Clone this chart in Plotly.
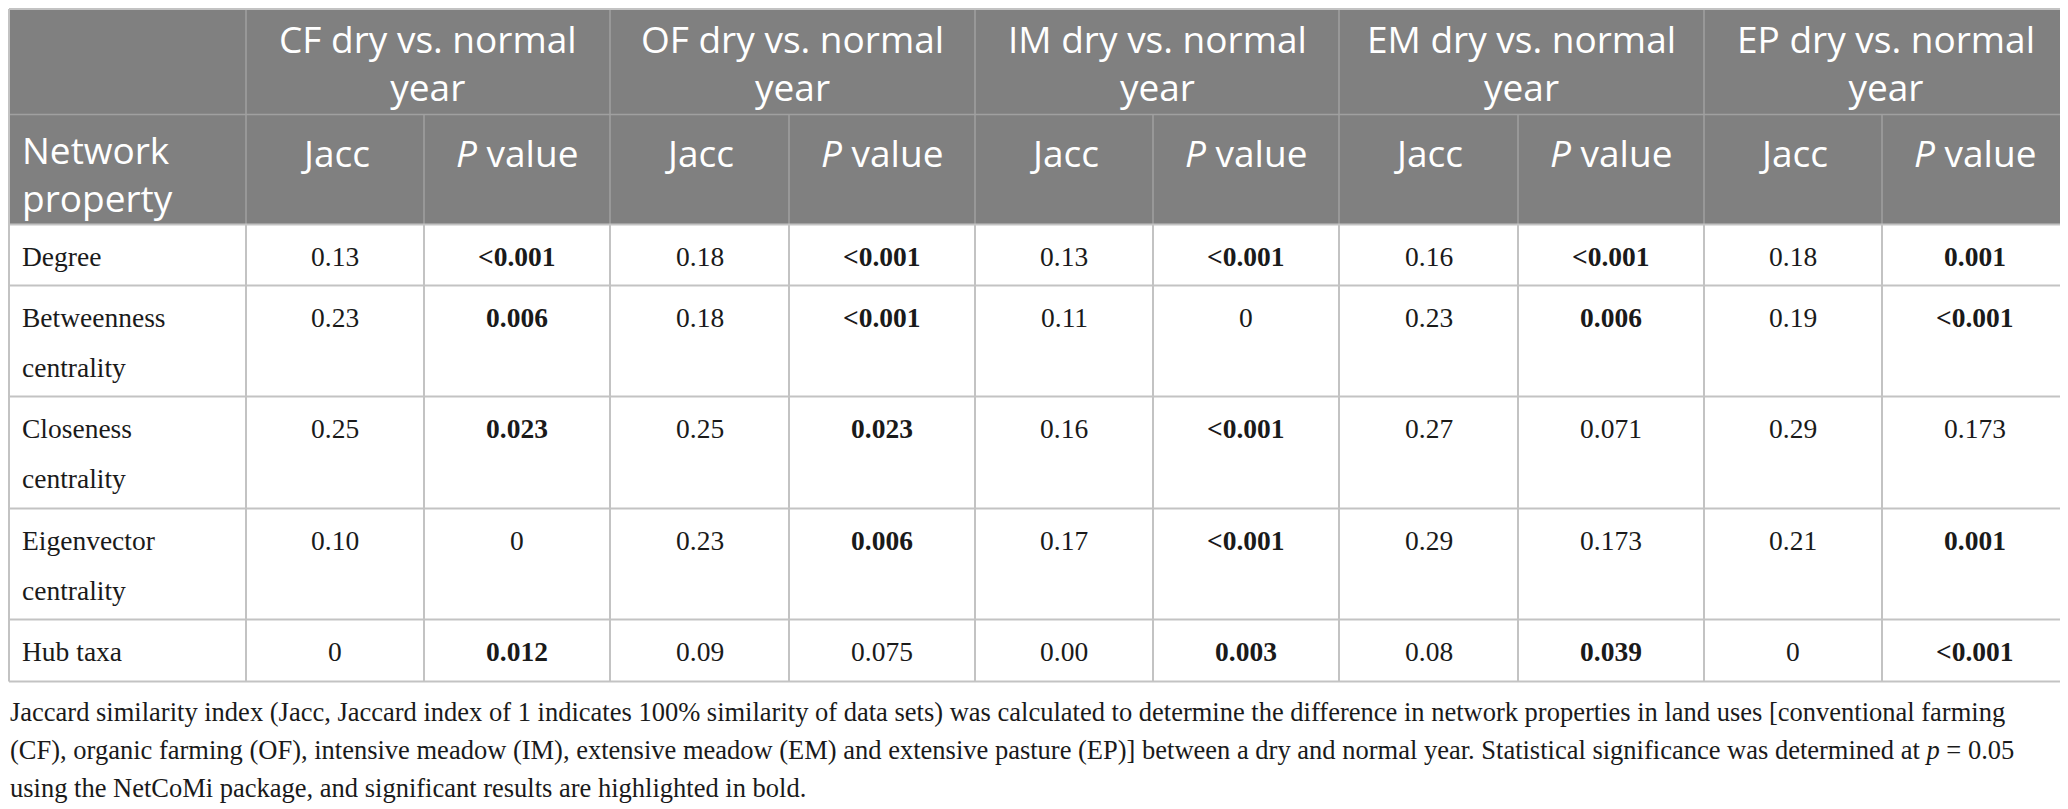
#!/usr/bin/env python3
"""
Jaccard 相似度表格（干旱年 vs 正常年）
使用 plotly 的 shapes + annotations 在坐标轴上绘制表格
"""

import plotly.graph_objects as go

# 数据
groups = ["CF", "OF", "IM", "EM", "EP"]
group_title = "{} dry vs. normal\nyear"
sub_headers = ["Jacc", "<i>P</i> value"]
first_header = "Network\nproperty"

properties = [
    "Degree",
    "Betweenness\ncentrality",
    "Closeness\ncentrality",
    "Eigenvector\ncentrality",
    "Hub taxa",
]

cf_jacc = ["0.13", "0.23", "0.25", "0.10", "0"]
cf_p = ["<0.001", "0.006", "0.023", "0", "0.012"]
cf_bold = [1, 1, 1, 0, 1]

of_jacc = ["0.18", "0.18", "0.25", "0.23", "0.09"]
of_p = ["<0.001", "<0.001", "0.023", "0.006", "0.075"]
of_bold = [1, 1, 1, 1, 0]

im_jacc = ["0.13", "0.11", "0.16", "0.17", "0.00"]
im_p = ["<0.001", "0", "<0.001", "<0.001", "0.003"]
im_bold = [1, 0, 1, 1, 1]

em_jacc = ["0.16", "0.23", "0.27", "0.29", "0.08"]
em_p = ["<0.001", "0.006", "0.071", "0.173", "0.039"]
em_bold = [1, 1, 0, 0, 1]

ep_jacc = ["0.18", "0.19", "0.29", "0.21", "0"]
ep_p = ["0.001", "<0.001", "0.173", "0.001", "<0.001"]
ep_bold = [1, 1, 0, 1, 1]

caption_lines = [
    "Jaccard similarity index (Jacc, Jaccard index of 1 indicates 100% similarity of data sets) was calculated to determine the difference in network properties in land uses [conventional farming",
    "(CF), organic farming (OF), intensive meadow (IM), extensive meadow (EM) and extensive pasture (EP)] between a dry and normal year. Statistical significance was determined at <i>p</i> = 0.05",
    "using the NetCoMi package, and significant results are highlighted in bold.",
]

# 版式（页面像素坐标；浏览器 body 默认有 8px 外边距）
W, H = 2068, 809
PAD = 8
COL_W = [245, 178, 186, 179, 186, 178, 186, 179, 186, 178, 185]
X0 = 1
TOP = 4.5
HEAD_H = [110, 110]
ROW_H = [61, 111, 112, 111, 62]

HEAD_FILL = "#808080"
HEAD_LINE = "#a0a0a0"
BODY_LINE = "#c3c3c3"
SANS = "Open Sans"
SERIF = "Liberation Serif"


def cumsum(start, sizes):
    out = [start]
    for s in sizes:
        out.append(out[-1] + s)
    return out


def esc(s):
    return s.replace("<", "&lt;") if not s.startswith("<i>") else s


def main():
    xe = cumsum(X0, COL_W)
    ye = cumsum(TOP, HEAD_H + ROW_H)
    head_bottom = ye[2]
    bottom = ye[-1]
    left = max(xe[0], PAD + 1)
    top_line = max(TOP, PAD + 1)

    shapes = []
    annotations = []

    def line(x0, y0, x1, y1, color, width):
        shapes.append(dict(type="line", xref="x", yref="y", x0=x0, y0=y0, x1=x1, y1=y1,
                           line=dict(color=color, width=width), layer="above"))

    def text(x, y_top, s, offset, spacing, font, anchor="center"):
        # 表体：逐行放置，行距自定
        for i, ln in enumerate(s.split("\n")):
            annotations.append(dict(x=x, y=y_top + offset + i * spacing, xref="x", yref="y",
                                    text=ln, showarrow=False, xanchor=anchor, yanchor="middle",
                                    font=font))

    def head_text(x, y_top, s, offset, spacing, font, anchor="center"):
        # 表头：多行合成一个文本块，避免文本框重叠
        lines = s.split("\n")
        yc = y_top + offset + (len(lines) - 1) * spacing / 2
        annotations.append(dict(x=x, y=yc, xref="x", yref="y", text="<br>".join(lines),
                                showarrow=False, xanchor=anchor, yanchor="middle",
                                align=anchor if anchor != "center" else "center", font=font))

    # 表头底色
    shapes.append(dict(type="rect", xref="x", yref="y", x0=left, x1=xe[-1], y0=top_line, y1=head_bottom,
                       fillcolor=HEAD_FILL, line=dict(width=0), layer="below"))

    # 表头线
    line(left, ye[1], xe[-1], ye[1], HEAD_LINE, 1.5)
    for k in range(1, len(xe) - 1):
        y_start = top_line if k % 2 == 1 else ye[1]
        line(xe[k], y_start, xe[k], head_bottom, HEAD_LINE, 1.5)

    # 表体线
    for r in range(2, len(ye)):
        line(left, ye[r], xe[-1], ye[r], BODY_LINE, 2)
    for k in range(1, len(xe) - 1):
        line(xe[k], head_bottom, xe[k], bottom, BODY_LINE, 2)

    # 外框
    line(left, top_line, xe[-1], top_line, BODY_LINE, 2)
    line(left, top_line, left, bottom, BODY_LINE, 2)
    line(xe[-1], top_line, xe[-1], bottom, BODY_LINE, 2)

    head_font = dict(family=SANS, size=37, color="white")
    body_font = dict(family=SERIF, size=27.5, color="#1a1a1a")

    # 表头文字
    for g, name in enumerate(groups):
        cx = (xe[1 + 2 * g] + xe[3 + 2 * g]) / 2
        head_text(cx, ye[0], group_title.format(name), 36, 43, head_font)
        for j, sub in enumerate(sub_headers):
            k = 1 + 2 * g + j
            head_text((xe[k] + xe[k + 1]) / 2, ye[1], sub, 38, 42, head_font)
    head_text(xe[0] + 19, ye[1], first_header, 38, 42, head_font, anchor="left")

    # 表体文字
    jacc_cols = [cf_jacc, of_jacc, im_jacc, em_jacc, ep_jacc]
    p_cols = [cf_p, of_p, im_p, em_p, ep_p]
    bold_cols = [cf_bold, of_bold, im_bold, em_bold, ep_bold]
    for r, prop in enumerate(properties):
        top = ye[2 + r]
        text(xe[0] + 19, top, prop, 32, 50, body_font, anchor="left")
        for g in range(len(groups)):
            kj = 1 + 2 * g
            text((xe[kj] + xe[kj + 1]) / 2, top, esc(jacc_cols[g][r]), 32, 50, body_font)
            pv = esc(p_cols[g][r])
            if bold_cols[g][r]:
                pv = "<b>" + pv + "</b>"
            text((xe[kj + 1] + xe[kj + 2]) / 2, top, pv, 32, 50, body_font)

    # 注释
    cap_font = dict(family=SERIF, size=26.5, color="#1a1a1a")
    for i, ln in enumerate(caption_lines):
        annotations.append(dict(x=PAD, y=712 + i * 38, xref="x", yref="y", text=ln, showarrow=False,
                                xanchor="left", yanchor="middle", font=cap_font))

    fig = go.Figure()
    fig.update_layout(
        width=W - PAD, height=H - PAD,
        margin=dict(l=0, r=0, t=0, b=0),
        paper_bgcolor="white", plot_bgcolor="white",
        xaxis=dict(range=[PAD, W], visible=False, fixedrange=True),
        yaxis=dict(range=[H, PAD], visible=False, fixedrange=True),
        shapes=shapes,
        annotations=annotations,
        showlegend=False,
    )
    fig.write_html("out.html")


if __name__ == "__main__":
    main()
